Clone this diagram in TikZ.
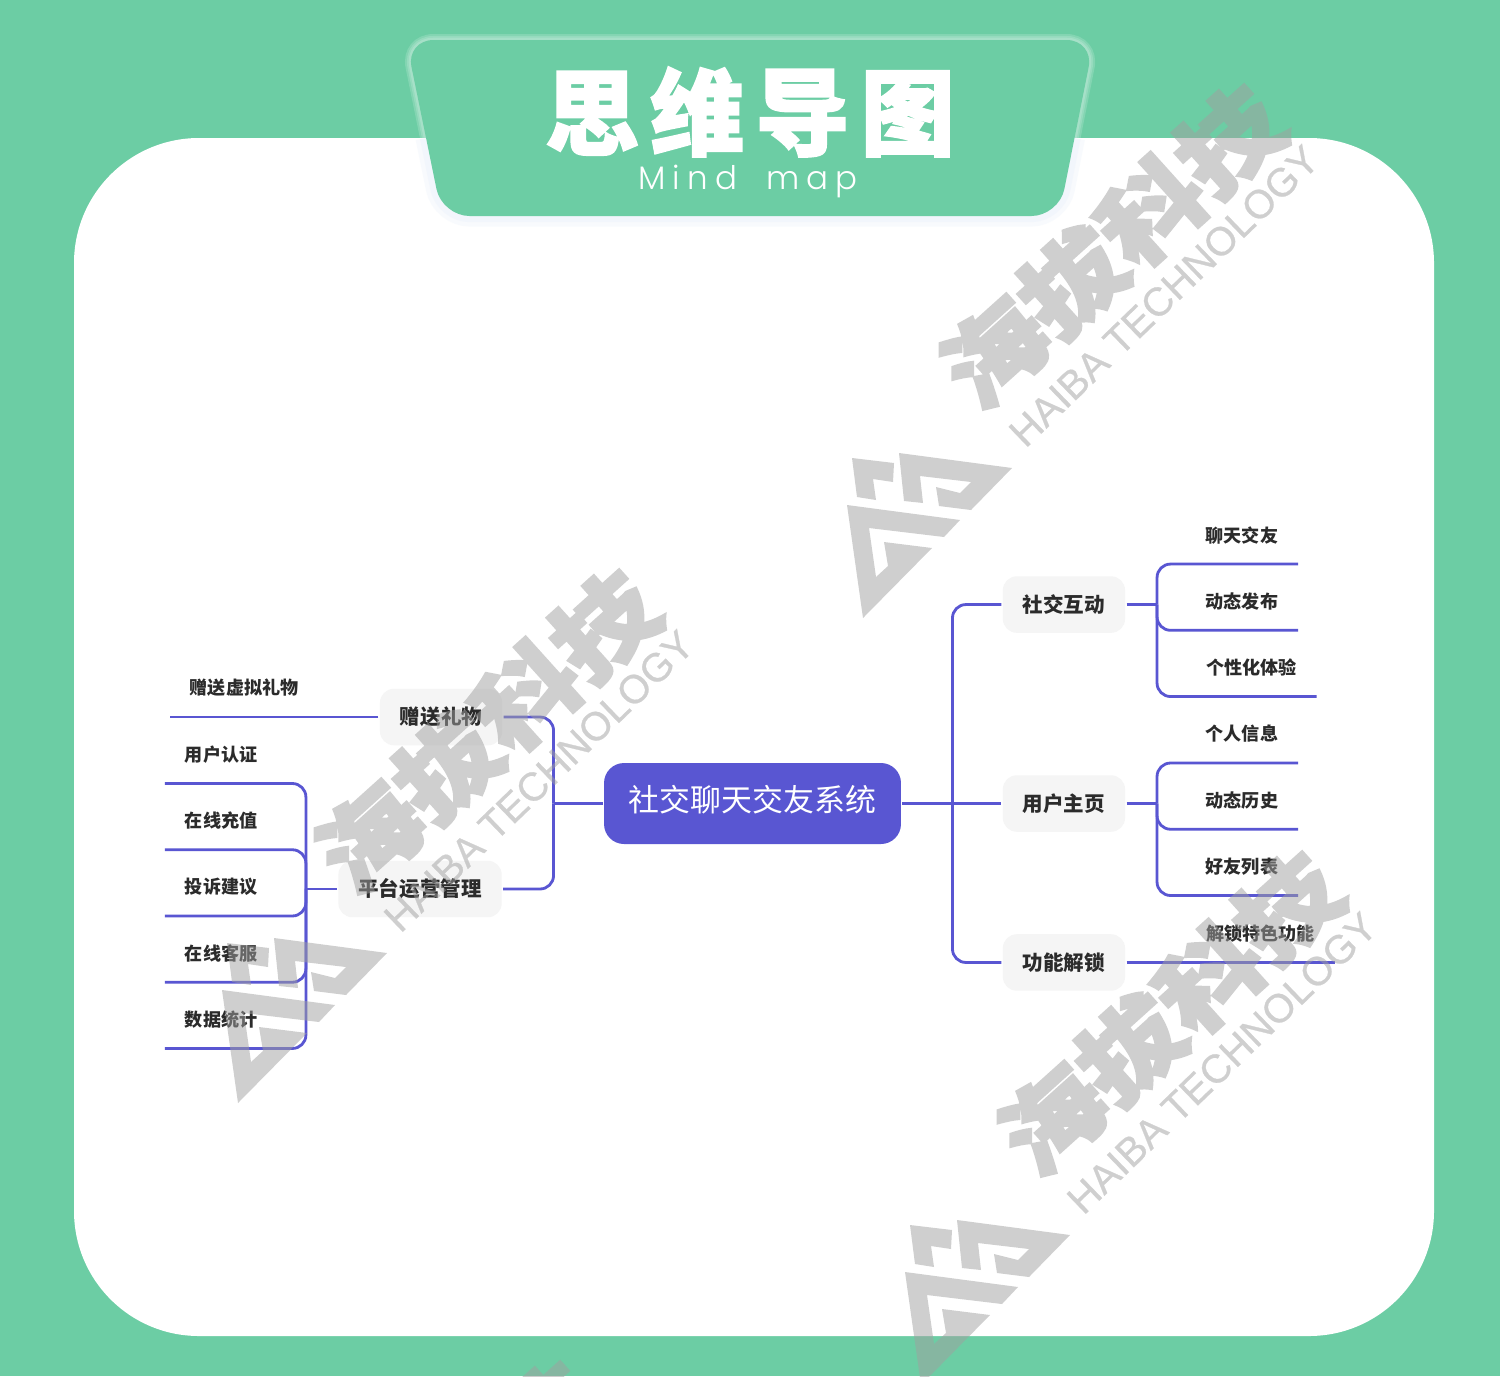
\documentclass[tikz,border=0pt]{standalone}
\RequirePackage{xcolor}
\definecolor{mapgreen}{HTML}{6CCDA4}
\definecolor{mapviolet}{HTML}{5956D2}
\definecolor{mapink}{HTML}{2B2B2B}
\definecolor{mapchip}{HTML}{F5F5F5}
\definecolor{mapmark}{HTML}{A0A0A0}
\definecolor{mapglow}{HTML}{D8E4F8}
\usepackage{fontspec}
\setmainfont{Noto Sans CJK SC}
\newfontfamily\heavyfont[BoldFeatures={FakeBold=3}]{Noto Sans CJK SC}
\newfontfamily\titlefont[LetterSpace=12,BoldFeatures={FakeBold=2}]{Noto Sans CJK SC}
\newfontfamily\subfont[LetterSpace=22,WordSpace=1.8,UprightFont=* Light]{Poppins}
\newfontfamily\markfont[FakeBold=0.6]{Liberation Sans}
\usepackage{tikz}
\usetikzlibrary{positioning}

\newcommand{\haibamark}[3]{%
\begin{scope}[shift={(#1,#2)}, transparency group, opacity=0.5]
\fill [markfill] (852,458) -- (894,463) -- (893,482) -- (873,479) -- (876,500) -- (857,497) -- cycle;
\fill [markfill] (899,453) -- (1012,468) -- (971,510) -- (939,506) -- (936,487) -- (960,493) -- (971,482) -- (920,476) -- (923,503) -- (904,501) -- cycle;
\fill [markfill] (847,505) -- (960,520) -- (944,537) -- (869,528) -- (876,577) -- (888,566) -- (884,542) -- (932,548) -- (863,618) -- cycle;
\node (markcn#3) [marktext, rotate=42, font=\heavyfont\bfseries\fontsize{60}{60}\selectfont] at (1112,246) {\scalebox{1}[0.88]{海拔科技}};
\node (marken#3) [marktext, rotate=44, font=\markfont\fontsize{22.8}{23}\selectfont] at (1164,296) {HAIBA TECHNOLOGY};
\end{scope}}

\begin{document}
\begin{tikzpicture}[
x=0.02cm, y=-0.02cm,
node distance=1.325cm,
rootbox/.style={rectangle, rounded corners=0.4cm, fill=mapviolet, text=white, minimum width=5.94cm, minimum height=1.62cm, text depth=5.5pt, outer sep=0.03cm, font=\fontsize{17.6}{20}\selectfont},
block/.style={rectangle, rounded corners=0.28cm, fill=mapchip, text=mapink, inner xsep=0.4cm, minimum height=1.13cm, outer sep=0.03cm, font=\bfseries\fontsize{11.7}{14}\selectfont},
leaf/.style={rectangle, text=mapink, inner xsep=0.4cm, inner ysep=0pt, minimum height=1.16cm, outer sep=0pt, font=\bfseries\fontsize{10.3}{12}\selectfont},
link/.style={draw=mapviolet, line width=1.6pt},
curvelink/.style={link, rounded corners=0.27cm},
glowline/.style={white, opacity=0.16, rounded corners=0.55cm},
shadeline/.style={mapglow, opacity=0.16, rounded corners=0.55cm},
markfill/.style={fill=mapmark},
marktext/.style={text=mapmark, inner sep=0pt}
]
\useasboundingbox (0,0) rectangle (1500,1376);
\clip (0,0) rectangle (1500,1376);

% backdrop and header
\fill [mapgreen] (0,0) rectangle (1500,1376);
\fill [white, rounded corners=2.5cm] (74,138) rectangle (1434,1336);
\draw [glowline, line width=6.8pt] (426,138) -- (406,40) -- (1094,40) -- (1074.5,138);
\draw [glowline, line width=4.6pt] (426,138) -- (406,40) -- (1094,40) -- (1074.5,138);
\draw [glowline, line width=2.6pt] (426,138) -- (406,40) -- (1094,40) -- (1074.5,138);
\draw [shadeline, line width=12pt] (426,138) -- (442,216) -- (1059,216) -- (1074.5,138);
\draw [shadeline, line width=7pt] (426,138) -- (442,216) -- (1059,216) -- (1074.5,138);
\fill [mapgreen, rounded corners=0.55cm] (406,40) -- (1094,40) -- (1059,216) -- (442,216) -- cycle;
\node (title) [text=white, font=\titlefont\bfseries\fontsize{53.5}{54}\selectfont] at (750,112) {思维导图};
\node (subtitle) [text=white, font=\subfont\fontsize{18.5}{20}\selectfont] at (748,181) {Mind map};

% main nodes
\node (root) [rootbox] at (752.5,803.5) {社交聊天交友系统};
\node (profile) [block, right of=root, xshift=4.905cm] {用户主页};
\node (social) [block, above of=profile, yshift=2.655cm] {社交互动};
\node (unlock) [block, below of=profile, yshift=-1.855cm] {功能解锁};
\node (gift) [block, left of=root, xshift=-4.905cm, yshift=1.73cm] {赠送礼物};
\node (admin) [block, left of=root, xshift=-5.325cm, yshift=-1.71cm] {平台运营管理};

% right leaves
\node (chat) [leaf, right of=social, xshift=2.235cm, yshift=1.39cm] {聊天交友};
\node (post) [leaf, below of=chat] {动态发布};
\node (custom) [leaf, below of=post, xshift=0.19cm] {个性化体验};
\node (info) [leaf, right of=profile, xshift=2.235cm, yshift=1.39cm] {个人信息};
\node (history) [leaf, below of=info] {动态历史};
\node (friends) [leaf, below of=history] {好友列表};
\node (feature) [leaf, right of=unlock, xshift=2.605cm, yshift=0.58cm] {解锁特色功能};

% left leaves
\node (present) [leaf, left of=gift, xshift=-2.615cm, yshift=0.58cm] {赠送虚拟礼物};
\node (auth) [leaf, left of=admin, xshift=-2.655cm, yshift=2.69cm] {用户认证};
\node (recharge) [leaf, below of=auth] {在线充值};
\node (advice) [leaf, below of=recharge] {投诉建议};
\node (service) [leaf, below of=advice] {在线客服};
\node (stats) [leaf, below of=service] {数据统计};

\coordinate (hubright) at ([xshift=1cm]root.east);
\coordinate (hubleft) at ([xshift=-0.98cm]root.west);
\coordinate (hubsocial) at ([xshift=0.61cm]social.east);
\coordinate (hubprofile) at ([xshift=0.61cm]profile.east);
\coordinate (hubadmin) at ([xshift=-0.62cm]admin.west);

\draw [link] (root.east) -- (hubright);
\draw [link] (root.west) -- (hubleft);
\draw [curvelink] (hubright) |- (social.west);
\draw [link] (hubright) -- (profile.west);
\draw [curvelink] (hubright) |- (unlock.west);
\draw [curvelink] (hubleft) |- (gift.east);
\draw [curvelink] (hubleft) |- (admin.east);

\draw [link] (social.east) -- (hubsocial);
\draw [curvelink] (hubsocial) |- (chat.south west) -- (chat.south east);
\draw [curvelink] (hubsocial) |- (post.south west) -- (post.south east);
\draw [curvelink] (hubsocial) |- (custom.south west) -- (custom.south east);

\draw [link] (profile.east) -- (hubprofile);
\draw [curvelink] (hubprofile) |- (info.south west) -- (info.south east);
\draw [curvelink] (hubprofile) |- (history.south west) -- (history.south east);
\draw [curvelink] (hubprofile) |- (friends.south west) -- (friends.south east);

\draw [link] (unlock.east) -- (feature.south west) -- (feature.south east);
\draw [link] (gift.west) -- (present.south east) -- (present.south west);

\draw [link] (admin.west) -- (hubadmin);
\draw [curvelink] (hubadmin) |- (auth.south east) -- (auth.south west);
\draw [curvelink] (hubadmin) |- (recharge.south east) -- (recharge.south west);
\draw [curvelink] (hubadmin) |- (advice.south east) -- (advice.south west);
\draw [curvelink] (hubadmin) |- (service.south east) -- (service.south west);
\draw [curvelink] (hubadmin) |- (stats.south east) -- (stats.south west);

% watermark
\haibamark{0}{0}{a}
\haibamark{-625}{485}{b}
\haibamark{58}{767}{c}
\haibamark{-684}{1277}{d}
\end{tikzpicture}
\end{document}
